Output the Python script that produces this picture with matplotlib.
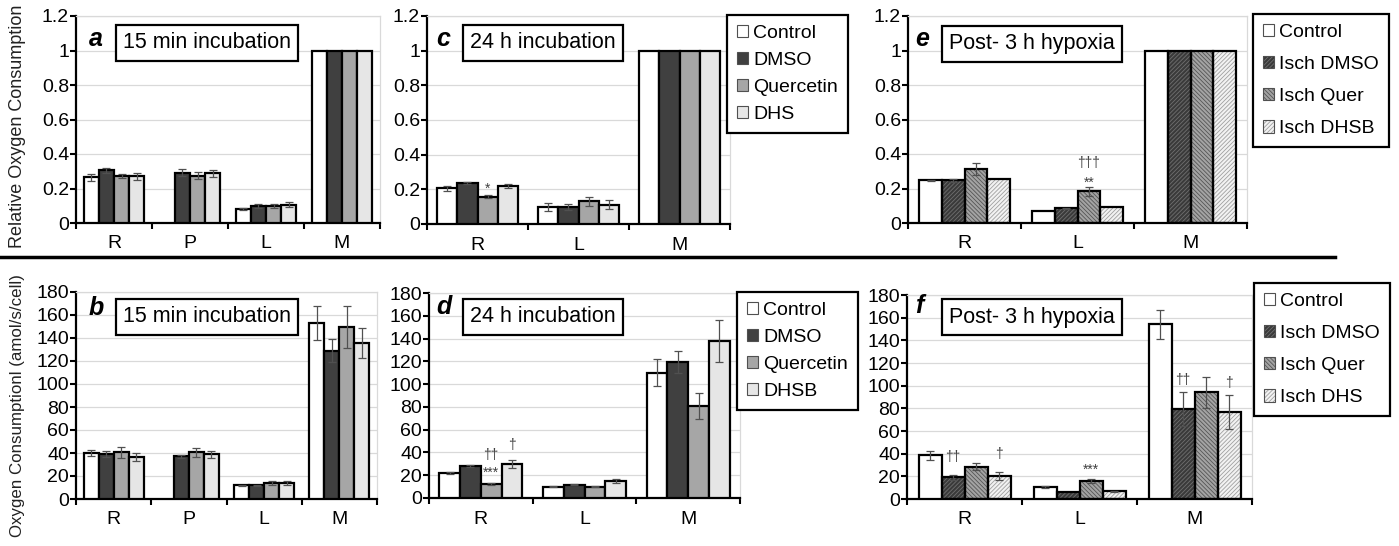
import numpy as np
import matplotlib
matplotlib.use('Agg')
import matplotlib.pyplot as plt
from matplotlib.patches import Patch
from matplotlib.lines import Line2D

plt.rcParams['font.family'] = ['Liberation Sans', 'DejaVu Sans']
plt.rcParams['hatch.linewidth'] = 0.6

nan = np.nan

# ---------------- data ----------------
cats_ab = ['R', 'P', 'L', 'M']
cats_3 = ['R', 'L', 'M']

# panel a (relative, 15 min)
a_control = [0.265, nan, 0.080, 1.0]
a_dmso = [0.305, 0.292, 0.097, 1.0]
a_quer = [0.272, 0.275, 0.097, 1.0]
a_dhs = [0.270, 0.288, 0.105, 1.0]
a_control_err = [0.020, nan, 0.006, 0]
a_dmso_err = [0.013, 0.020, 0.012, 0]
a_quer_err = [0.010, 0.018, 0.012, 0]
a_dhs_err = [0.018, 0.020, 0.015, 0]

# panel b (absolute, 15 min)
b_control = [40, nan, 12, 153]
b_dmso = [39, 37, 12, 129]
b_quer = [40.5, 40.5, 14, 149.5]
b_dhs = [36.5, 39, 14, 136]
b_control_err = [2.5, nan, 0.5, 15]
b_dmso_err = [2.5, 1, 0.5, 10]
b_quer_err = [4.5, 4, 2, 18]
b_dhs_err = [3.5, 3, 2, 13]

# panel c (relative, 24 h)
c_control = [0.205, 0.098, 1.0]
c_dmso = [0.235, 0.098, 1.0]
c_quer = [0.158, 0.130, 1.0]
c_dhs = [0.220, 0.112, 1.0]
c_control_err = [0.013, 0.025, 0]
c_dmso_err = [0.006, 0.017, 0]
c_quer_err = [0.008, 0.025, 0]
c_dhs_err = [0.012, 0.025, 0]

# panel d (absolute, 24 h)
d_control = [22, 10, 110]
d_dmso = [28, 11.5, 119.5]
d_quer = [12.5, 10, 80.5]
d_dhsb = [30, 15, 138]
d_control_err = [0.5, 0.5, 12]
d_dmso_err = [1, 0.5, 10]
d_quer_err = [1, 0.5, 11.5]
d_dhsb_err = [3.5, 2, 18.5]

# panel e (relative, post hypoxia)
e_control = [0.248, 0.068, 1.0]
e_dmso = [0.247, 0.085, 1.0]
e_quer = [0.315, 0.183, 1.0]
e_dhsb = [0.255, 0.090, 1.0]
e_control_err = [0.004, 0, 0]
e_dmso_err = [0.008, 0.004, 0]
e_quer_err = [0.035, 0.025, 0]
e_dhsb_err = [0, 0, 0]

# panel f (absolute, post hypoxia)
f_control = [38.5, 10.5, 154]
f_dmso = [19, 6.5, 79]
f_quer = [28.5, 16, 94]
f_dhs = [20, 7, 77]
f_control_err = [4, 1, 13]
f_dmso_err = [2.5, 0, 15]
f_quer_err = [3, 1.5, 14]
f_dhs_err = [3.5, 0.5, 15]

labels_ac = ['Control', 'DMSO', 'Quercetin', 'DHS']
labels_d = ['Control', 'DMSO', 'Quercetin', 'DHSB']
labels_e = ['Control', 'Isch DMSO', 'Isch Quer', 'Isch DHSB']
labels_f = ['Control', 'Isch DMSO', 'Isch Quer', 'Isch DHS']

# significance marks: (category index, series index, y, text)
c_marks = [(0, 2, 0.205, '*')]
d_marks = [(0, 2, 22, '***'), (0, 2, 38, '††'), (0, 3, 46.5, '†')]
e_marks = [(1, 2, 0.232, '**'), (1, 2, 0.345, '†††')]
f_marks = [(0, 1, 37, '††'), (0, 3, 39.5, '†'), (1, 2, 25.5, '***'),
           (2, 1, 105, '††'), (2, 3, 102.5, '†')]

# ---------------- styles ----------------
plain_styles = [
    dict(fc='white', hatch=None, hc=None),
    dict(fc='#404040', hatch=None, hc=None),
    dict(fc='#a6a6a6', hatch=None, hc=None),
    dict(fc='#e6e6e6', hatch=None, hc=None),
]
hatch_styles = [
    dict(fc='white', hatch=None, hc=None),
    dict(fc='#3a3a3a', hatch='////////', hc='#707070'),
    dict(fc='#a3a3a3', hatch='\\\\\\\\\\\\\\\\', hc='#555555'),
    dict(fc='#f2f2f2', hatch='////////', hc='#a0a0a0'),
]

W, H = 1399, 546
fig = plt.figure(figsize=(W / 100, H / 100), dpi=100)


def rect(l, t, r, b):
    return [l / W, 1 - b / H, (r - l) / W, (b - t) / H]


def fx(px):
    return px / W


def fy(py):
    return 1 - py / H


TICK_FS = 14
BW = 0.2


def draw_panel(r, cats, series, errs, styles, ymax, ystep, letter, letter_xy,
               title, title_xy, marks=()):
    ax = fig.add_axes(rect(*r))
    n = len(cats)
    x = np.arange(n)
    for i, (v, e, st) in enumerate(zip(series, errs, styles)):
        v = np.asarray(v, float)
        e = np.asarray(e, float)
        xs = x + (i - 1.5) * BW
        if st['hatch']:
            ax.bar(xs, v, BW, color=st['fc'], hatch=st['hatch'],
                   edgecolor=st['hc'], linewidth=0, zorder=2)
            ax.bar(xs, v, BW, fill=False, edgecolor='black', linewidth=1.6,
                   zorder=3)
        else:
            ax.bar(xs, v, BW, color=st['fc'], edgecolor='black',
                   linewidth=1.6, zorder=3)
        m = np.isfinite(e) & (e > 0)
        if m.any():
            ax.errorbar(xs[m], v[m], yerr=e[m], fmt='none', ecolor='#505050',
                        elinewidth=0.9, capsize=3, capthick=0.9, zorder=4)
    for ci, si, yv, txt in marks:
        ax.text(ci + (si - 1.5) * BW, yv, txt, ha='center', va='center',
                fontsize=10, color='#404040', zorder=5)
    ax.set_xlim(-0.5, n - 0.5)
    ax.set_ylim(0, ymax)
    yt = np.arange(0, ymax + ystep / 2, ystep)
    ax.set_yticks(yt)
    ax.set_yticklabels(['{:g}'.format(round(t, 6)) for t in yt],
                       fontsize=TICK_FS)
    ax.set_xticks(np.arange(n + 1) - 0.5)
    ax.set_xticklabels([])
    ax.set_xticks(x, labels=cats, minor=True)
    ax.tick_params(axis='x', which='major', direction='out', length=4,
                   width=1.5)
    ax.tick_params(axis='x', which='minor', length=0, labelsize=TICK_FS,
                   pad=9)
    ax.tick_params(axis='y', direction='out', length=4, width=1.5, pad=1,
                   labelsize=TICK_FS)
    ax.yaxis.grid(True, color='#d9d9d9', linewidth=0.9)
    ax.set_axisbelow(True)
    for s in ('left', 'bottom'):
        ax.spines[s].set_linewidth(1.6)
        ax.spines[s].set_color('black')
    for s in ('top', 'right'):
        ax.spines[s].set_linewidth(0.9)
        ax.spines[s].set_color('#d9d9d9')
    fig.text(fx(letter_xy[0]), fy(letter_xy[1]), letter, fontsize=18,
             fontweight='bold', fontstyle='italic', va='center', ha='left')
    fig.text(fx(title_xy[0]), fy(title_xy[1]), title, fontsize=15.5,
             va='center', ha='left',
             bbox=dict(boxstyle='square,pad=0.33', fc='white', ec='black',
                       lw=1.6))
    return ax


def add_legend(labels, styles, left, top, spacing):
    handles = []
    for st in styles:
        if st['hatch']:
            h = (Patch(facecolor=st['fc'], hatch=st['hatch'],
                       edgecolor=st['hc'], linewidth=0),
                 Patch(fill=False, edgecolor='#505050', linewidth=0.8))
        else:
            h = Patch(facecolor=st['fc'], edgecolor='#505050', linewidth=0.8)
        handles.append(h)
    leg = fig.legend(handles, labels, loc='upper left',
                     bbox_to_anchor=(fx(left), fy(top)), fontsize=14,
                     frameon=True, fancybox=False, borderaxespad=0,
                     handlelength=0.6, handleheight=0.6, handletextpad=0.25,
                     labelspacing=spacing, borderpad=0.5)
    fr = leg.get_frame()
    fr.set_edgecolor('black')
    fr.set_linewidth(1.6)
    fr.set_alpha(1)
    return leg


# ---------------- panels ----------------
draw_panel((76, 16, 380, 223), cats_ab,
           [a_control, a_dmso, a_quer, a_dhs],
           [a_control_err, a_dmso_err, a_quer_err, a_dhs_err],
           plain_styles, 1.2, 0.2, 'a', (89, 39), '15 min incubation',
           (123, 43))

draw_panel((427, 16, 730, 224), cats_3,
           [c_control, c_dmso, c_quer, c_dhs],
           [c_control_err, c_dmso_err, c_quer_err, c_dhs_err],
           plain_styles, 1.2, 0.2, 'c', (436, 39), '24 h incubation',
           (470, 43), c_marks)

draw_panel((908, 16, 1247, 223), cats_3,
           [e_control, e_dmso, e_quer, e_dhsb],
           [e_control_err, e_dmso_err, e_quer_err, e_dhsb_err],
           hatch_styles, 1.2, 0.2, 'e', (915, 39), 'Post- 3 h hypoxia',
           (949, 44), e_marks)

draw_panel((76, 292, 377, 499), cats_ab,
           [b_control, b_dmso, b_quer, b_dhs],
           [b_control_err, b_dmso_err, b_quer_err, b_dhs_err],
           plain_styles, 180, 20, 'b', (89, 308), '15 min incubation',
           (123, 317))

draw_panel((429, 293, 740, 498), cats_3,
           [d_control, d_dmso, d_quer, d_dhsb],
           [d_control_err, d_dmso_err, d_quer_err, d_dhsb_err],
           plain_styles, 180, 20, 'd', (436, 307), '24 h incubation',
           (470, 317), d_marks)

draw_panel((907, 295, 1252, 499), cats_3,
           [f_control, f_dmso, f_quer, f_dhs],
           [f_control_err, f_dmso_err, f_quer_err, f_dhs_err],
           hatch_styles, 180, 20, 'f', (915, 306), 'Post- 3 h hypoxia',
           (949, 317), f_marks)

add_legend(labels_ac, plain_styles, 727, 15, 0.52)
add_legend(labels_e, hatch_styles, 1253, 14, 0.78)
add_legend(labels_d, plain_styles, 737, 292, 0.52)
add_legend(labels_f, hatch_styles, 1254, 283, 0.78)

# y labels
fig.text(fx(18), fy(126), 'Relative Oxygen Consumption', rotation=90,
         fontsize=13, va='center', ha='center', color='#222222')
fig.text(fx(18), fy(406), 'Oxygen Consumptionl (amol/s/cell)', rotation=90,
         fontsize=12.2, va='center', ha='center', color='#222222')

# separator line
fig.add_artist(Line2D([0, fx(1335)], [fy(257), fy(257)], color='black',
                      linewidth=2.5, transform=fig.transFigure))

fig.savefig('out.png', dpi=100, facecolor='white')
